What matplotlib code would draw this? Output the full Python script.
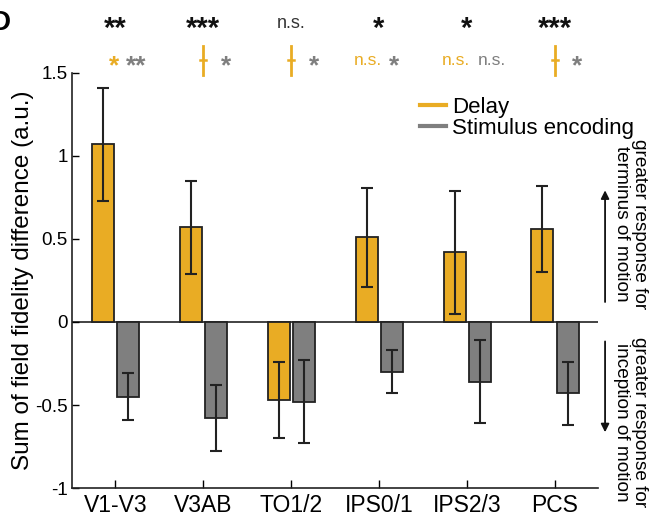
import matplotlib
matplotlib.use('Agg')
from matplotlib import pyplot as plt
from matplotlib.lines import Line2D
import numpy as np

plt.rcParams['font.family'] = ['Liberation Sans', 'DejaVu Sans']

rois = ['V1-V3', 'V3AB', 'TO1/2', 'IPS0/1', 'IPS2/3', 'PCS']
delay = [1.07, 0.57, -0.47, 0.51, 0.42, 0.56]
delay_err = [0.34, 0.28, 0.23, 0.30, 0.37, 0.26]
stim = [-0.45, -0.58, -0.48, -0.30, -0.36, -0.43]
stim_err = [0.14, 0.20, 0.25, 0.13, 0.25, 0.19]

top_sig = ['**', '***', 'n.s.', '*', '*', '***']
delay_sig = ['*', 'dag', 'dag', 'n.s.', 'n.s.', 'dag']
stim_sig = ['**', '*', '*', '*', 'n.s.', '*']

orange = '#E9AC24'
gray = '#7F7F7F'

fig = plt.figure(figsize=(6.62, 5.21), dpi=100)
ax = fig.add_axes([0.109, 0.0633, 0.794, 0.7967])

x = np.arange(len(rois))
w = 0.25
ax.bar(x - 0.14, delay, w, color=orange, edgecolor='#222222', linewidth=1.3, zorder=2)
ax.bar(x + 0.15, stim, w, color=gray, edgecolor='#222222', linewidth=1.3, zorder=2)
ax.errorbar(x - 0.14, delay, yerr=delay_err, fmt='none', ecolor='#222222',
            elinewidth=1.5, capsize=4, capthick=1.5, zorder=3)
ax.errorbar(x + 0.15, stim, yerr=stim_err, fmt='none', ecolor='#222222',
            elinewidth=1.5, capsize=4, capthick=1.5, zorder=3)
ax.axhline(0, color='#222222', linewidth=1.2, zorder=1)

ax.set_xlim(-0.49, 5.49)
ax.set_ylim(-1, 1.5)
ax.set_yticks([-1, -0.5, 0, 0.5, 1, 1.5])
ax.set_yticklabels(['-1', '-0.5', '0', '0.5', '1', '1.5'])
ax.set_xticks(x)
ax.set_xticklabels(rois, fontsize=16.5)
ax.tick_params(axis='y', labelsize=13.5, direction='in', length=5, width=1, pad=3)
ax.tick_params(axis='x', direction='in', length=6, width=1, pad=4)
for s in ['top', 'right']:
    ax.spines[s].set_visible(False)
for s in ['left', 'bottom']:
    ax.spines[s].set_linewidth(1.2)
    ax.spines[s].set_color('#222222')
ax.set_ylabel('Sum of field fidelity difference (a.u.)', fontsize=17.5, labelpad=1)

# significance markers
tr = ax.get_xaxis_transform()
for i in range(len(rois)):
    star = top_sig[i] != 'n.s.'
    ax.text(x[i], 1.105 if star else 1.12, top_sig[i], transform=tr, ha='center', va='center',
            fontsize=21 if star else 13,
            fontweight='bold' if star else 'normal',
            color='#111111' if star else '#333333')
    d = delay_sig[i]
    if d == 'dag':
        ax.plot([x[i], x[i]], [0.995, 1.065], transform=tr, color=orange,
                lw=2, clip_on=False)
        ax.plot([x[i] - 0.035, x[i] + 0.035], [1.03, 1.03], transform=tr,
                color=orange, lw=1.8, clip_on=False)
        gx = x[i] + 0.2
    else:
        ax.text(x[i] + 0.04, 1.015 if d == '*' else 1.03, d, transform=tr,
                ha='right', va='center',
                fontsize=19 if d == '*' else 12.5, fontweight='bold' if d == '*' else 'normal',
                color=orange)
        gx = x[i] + 0.12
    s = stim_sig[i]
    ax.text(gx, 1.015 if s != 'n.s.' else 1.03, s, transform=tr, ha='left', va='center',
            fontsize=19 if s != 'n.s.' else 12.5, fontweight='bold' if s != 'n.s.' else 'normal',
            color=gray)

# legend
handles = [Line2D([0], [0], color=orange, lw=3), Line2D([0], [0], color=gray, lw=3)]
fig.legend(handles, ['Delay', 'Stimulus encoding'], loc='upper left',
           bbox_to_anchor=(0.618, 0.835), frameon=False, fontsize=16,
           handlelength=1.15, handletextpad=0.3, labelspacing=0.0, borderpad=0)

# right side annotations
fig.text(0.952, 0.57, 'greater response for\nterminus of motion', rotation=-90,
         ha='center', va='center', fontsize=13.7, linespacing=1.05)
fig.text(0.952, 0.19, 'greater response for\ninception of motion', rotation=-90,
         ha='center', va='center', fontsize=13.7, linespacing=1.05)
fig.add_artist(matplotlib.patches.FancyArrowPatch((0.914, 0.415), (0.914, 0.64),
               transform=fig.transFigure, arrowstyle='-|>', mutation_scale=12,
               color='#111111', lw=1.3))
fig.add_artist(matplotlib.patches.FancyArrowPatch((0.914, 0.35), (0.914, 0.165),
               transform=fig.transFigure, arrowstyle='-|>', mutation_scale=12,
               color='#111111', lw=1.3))

fig.text(-0.015, 0.955, 'D', fontsize=20, fontweight='bold', ha='left', va='center')

fig.savefig('out.png', dpi=100)
